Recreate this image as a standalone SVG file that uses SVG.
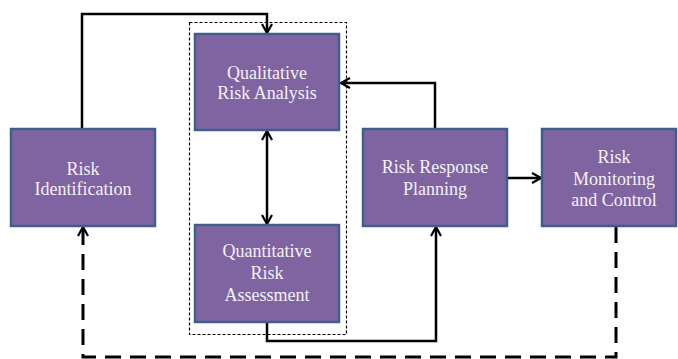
<svg xmlns="http://www.w3.org/2000/svg" width="678" height="359" viewBox="0 0 678 359">
<style>
.box{fill:#8064A2;stroke:#3D5F8C;stroke-width:2.5}
.lbl{font-family:"Liberation Serif","Times New Roman",serif;font-size:18px;fill:#F3F0F6;text-anchor:middle}
.con{fill:none;stroke:#000;stroke-width:2.5}
.dash{fill:none;stroke:#000;stroke-width:3;stroke-dasharray:16 9}
.group{fill:none;stroke:#000;stroke-width:1.2;stroke-dasharray:3 2}
</style>
<defs>
<marker id="arr" viewBox="0 0 12 12" refX="11" refY="6" markerWidth="12" markerHeight="12" markerUnits="userSpaceOnUse" orient="auto-start-reverse">
<path d="M2,1 L11,6 L2,11" fill="none" stroke="#000" stroke-width="2.2"/>
</marker>
</defs>
<rect id="container" class="group" x="189.5" y="22.5" width="157" height="312"/>
<g id="connectors">
<path class="con" d="M82,129 V14 H267 V33" marker-end="url(#arr)"/>
<path class="con" d="M267,131 V224" marker-start="url(#arr)" marker-end="url(#arr)"/>
<path class="con" d="M435,129 V83 H341" marker-end="url(#arr)"/>
<path class="con" d="M267,322 V341 H436 V227" marker-end="url(#arr)"/>
<path class="con" d="M507,178 H541" marker-end="url(#arr)"/>
<path class="dash" d="M616,227 V357 H83 V227" marker-end="url(#arr)"/>
</g>
<g id="risk-identification">
<rect class="box" x="11" y="129" width="144" height="97"/>
<text class="lbl" x="83" y="175">Risk</text>
<text class="lbl" x="83" y="195">Identification</text>
</g>
<g id="qualitative">
<rect class="box" x="195" y="34" width="144" height="96"/>
<text class="lbl" x="267" y="79">Qualitative</text>
<text class="lbl" x="267" y="99">Risk Analysis</text>
</g>
<g id="quantitative">
<rect class="box" x="195" y="225" width="144" height="97"/>
<text class="lbl" x="267" y="257">Quantitative</text>
<text class="lbl" x="267" y="279">Risk</text>
<text class="lbl" x="267" y="301">Assessment</text>
</g>
<g id="risk-response">
<rect class="box" x="363" y="129" width="144" height="97"/>
<text class="lbl" x="435" y="173">Risk Response</text>
<text class="lbl" x="435" y="195">Planning</text>
</g>
<g id="risk-monitoring">
<rect class="box" x="542" y="129" width="134" height="97"/>
<text class="lbl" x="614" y="163">Risk</text>
<text class="lbl" x="614" y="185">Monitoring</text>
<text class="lbl" x="614" y="206">and Control</text>
</g>
</svg>
